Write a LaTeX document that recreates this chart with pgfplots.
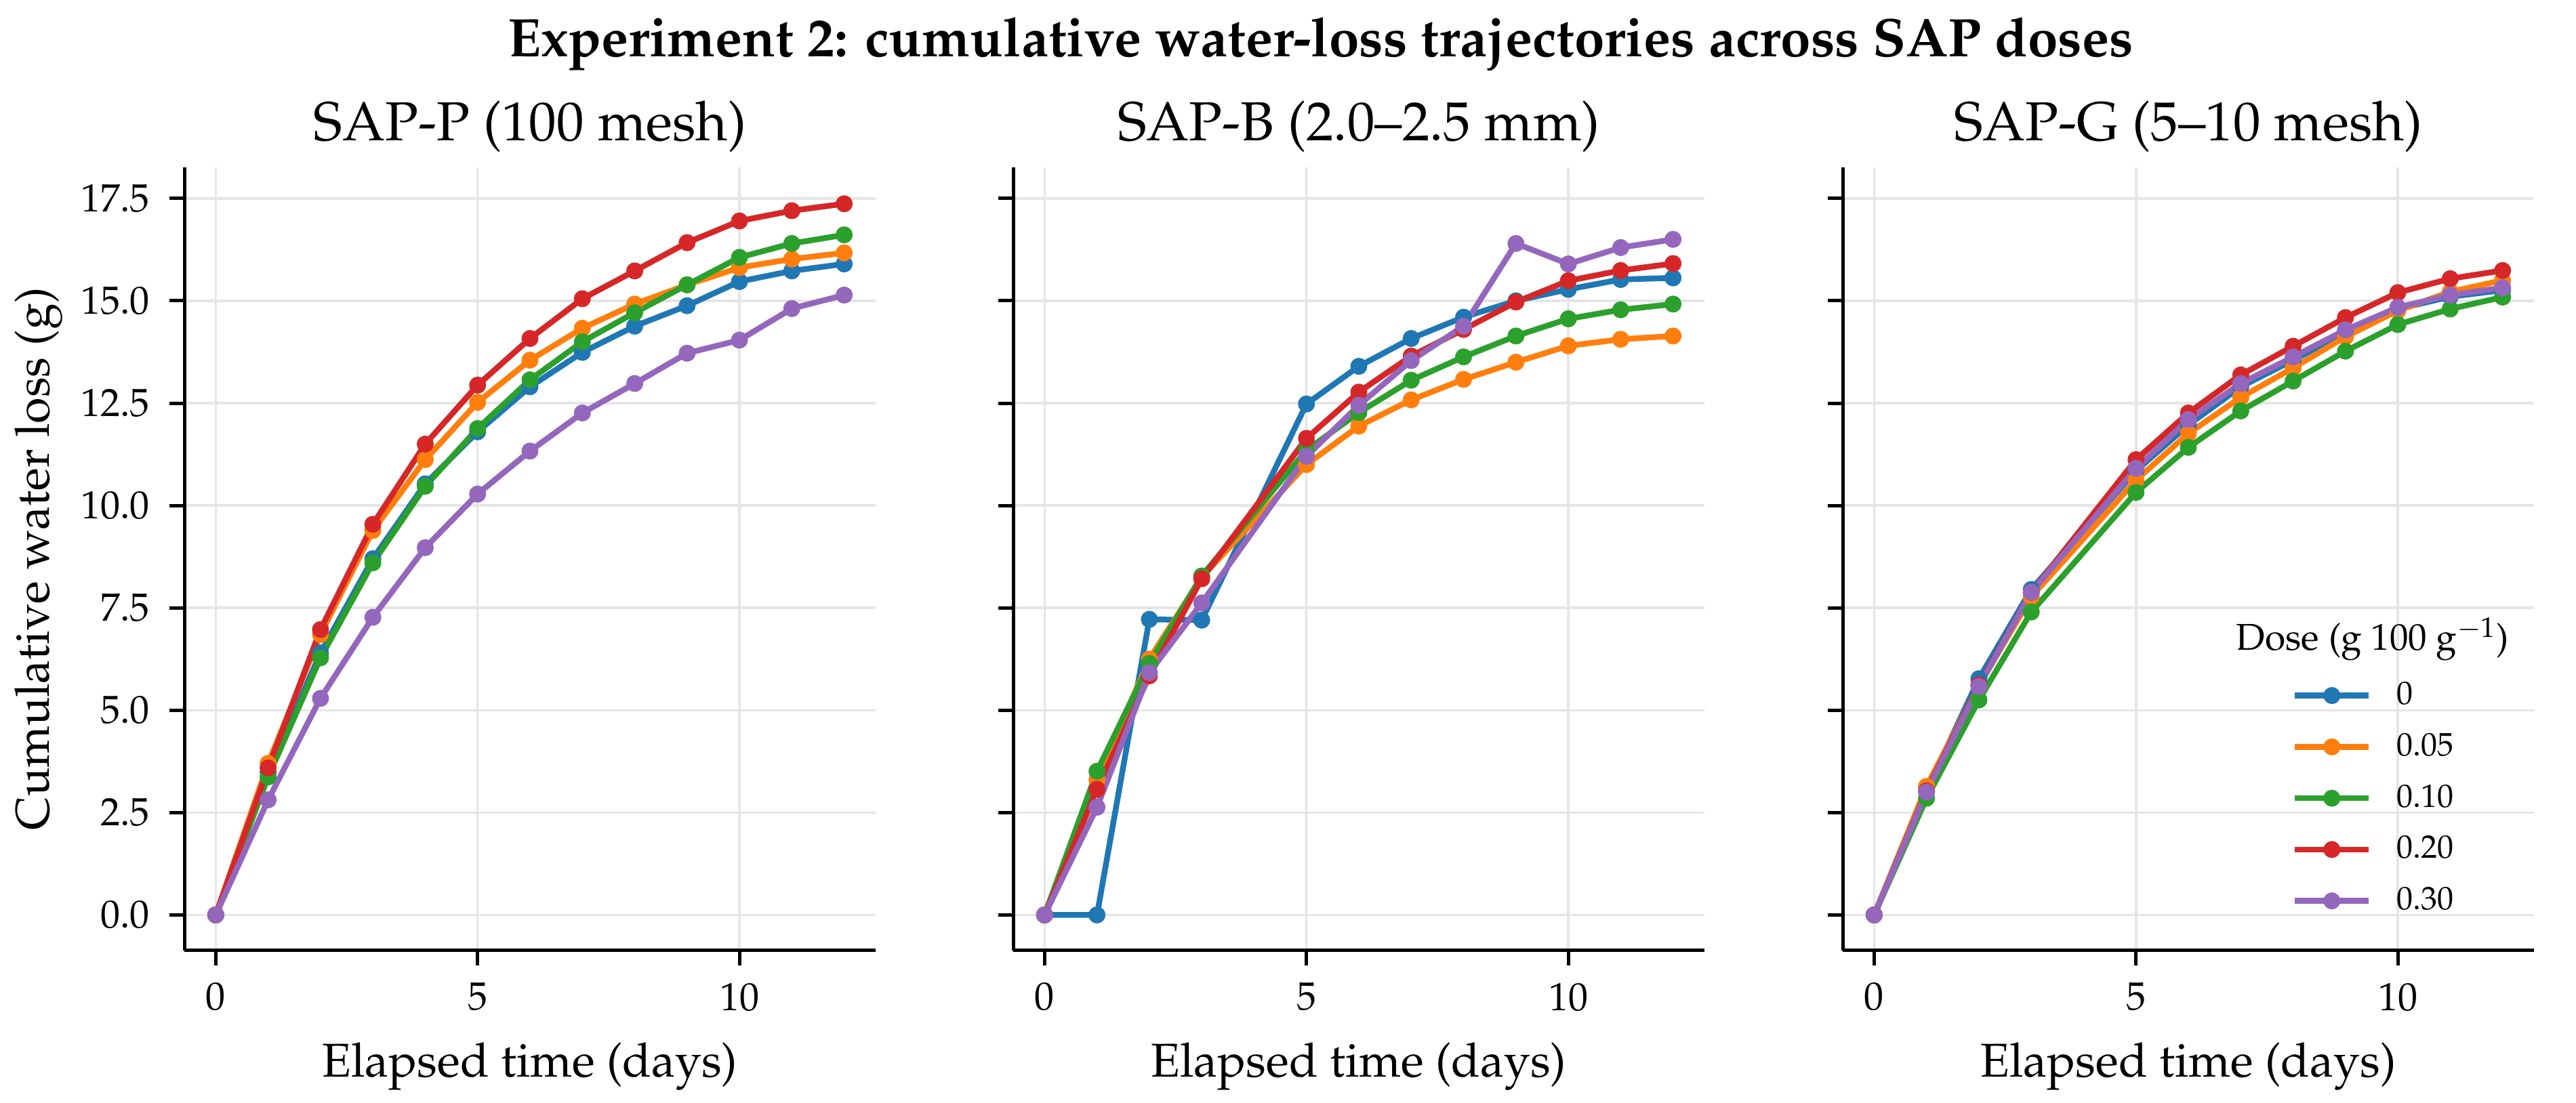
\documentclass[border=0pt]{standalone}
\usepackage[T1]{fontenc}
\usepackage{mathpazo}
\usepackage{pgfplots}
\pgfplotsset{compat=1.18}
\definecolor{cB}{HTML}{1F77B4}
\definecolor{cO}{HTML}{FF7F0E}
\definecolor{cG}{HTML}{2CA02C}
\definecolor{cR}{HTML}{D62728}
\definecolor{cP}{HTML}{9467BD}
\pgfplotsset{
  sapax/.style={
    scale only axis, width=204pt, height=231.2pt,
    xmin=-0.6, xmax=12.6, ymin=-0.87, ymax=18.26,
    axis x line*=bottom, axis y line*=left,
    axis line style={-, line width=1pt},
    xtick={0,5,10}, ytick={0,2.5,5,7.5,10,12.5,15,17.5},
    tick align=outside, major tick length=4.4pt,
    tick style={line width=1pt, black},
    grid=major, major grid style={line width=0.7pt, black!10},
    tick label style={font=\fontsize{11.6}{13}\selectfont},
    xticklabel style={inner sep=0pt, yshift=-5pt},
    yticklabel style={inner sep=0pt, xshift=-5.6pt, /pgf/number format/.cd, fixed, fixed zerofill, precision=1},
    xlabel={Elapsed time (days)},
    label style={font=\fontsize{14}{16}\selectfont},
    xlabel style={at={(axis description cs:0.5,0)}, anchor=base, yshift=-37.4pt},
    every axis plot/.append style={line width=1.7pt, line join=round, mark=*, mark size=2.1pt, mark options={solid, line width=0.8pt}},
    legend image code/.code={\draw[#1, mark repeat=2, mark phase=2] plot coordinates {(0pt,0pt) (10.9pt,0pt) (21.8pt,0pt)};},
  }
}
\begin{document}
\begin{tikzpicture}
\useasboundingbox (0,0) rectangle (760.2pt,325.6pt);
% Panel 1
\begin{axis}[sapax, at={(54.4pt,45pt)}, anchor=south west]
\addplot[cB] coordinates {(0,0) (1,3.48) (2,6.40) (3,8.70) (4,10.53) (5,11.80) (6,12.90) (7,13.74) (8,14.38) (9,14.88) (10,15.47) (11,15.73) (12,15.90)};
\addplot[cO] coordinates {(0,0) (1,3.70) (2,6.85) (3,9.39) (4,11.12) (5,12.52) (6,13.55) (7,14.33) (8,14.92) (9,15.39) (10,15.81) (11,16.02) (12,16.17)};
\addplot[cG] coordinates {(0,0) (1,3.37) (2,6.28) (3,8.60) (4,10.47) (5,11.88) (6,13.07) (7,14.00) (8,14.71) (9,15.39) (10,16.06) (11,16.40) (12,16.61)};
\addplot[cR] coordinates {(0,0) (1,3.59) (2,6.97) (3,9.54) (4,11.50) (5,12.94) (6,14.08) (7,15.05) (8,15.73) (9,16.42) (10,16.95) (11,17.20) (12,17.37)};
\addplot[cP] coordinates {(0,0) (1,2.81) (2,5.29) (3,7.27) (4,8.97) (5,10.28) (6,11.33) (7,12.26) (8,12.98) (9,13.72) (10,14.04) (11,14.81) (12,15.14)};
\end{axis}
% Panel 2
\begin{axis}[sapax, at={(299pt,45pt)}, anchor=south west, yticklabels={}]
\addplot[cB] coordinates {(0,0) (1,0) (2,7.22) (3,7.20) (5,12.48) (6,13.40) (7,14.08) (8,14.60) (9,15.00) (10,15.28) (11,15.52) (12,15.56)};
\addplot[cO] coordinates {(0,0) (1,3.30) (2,6.25) (3,8.25) (5,11.00) (6,11.94) (7,12.58) (8,13.08) (9,13.50) (10,13.90) (11,14.06) (12,14.14)};
\addplot[cG] coordinates {(0,0) (1,3.51) (2,6.14) (3,8.28) (5,11.35) (6,12.27) (7,13.06) (8,13.63) (9,14.14) (10,14.56) (11,14.78) (12,14.92)};
\addplot[cR] coordinates {(0,0) (1,3.07) (2,5.84) (3,8.21) (5,11.64) (6,12.77) (7,13.65) (8,14.30) (9,14.97) (10,15.49) (11,15.74) (12,15.91)};
\addplot[cP] coordinates {(0,0) (1,2.63) (2,5.92) (3,7.62) (5,11.20) (6,12.45) (7,13.54) (8,14.38) (9,16.40) (10,15.90) (11,16.30) (12,16.50)};
\end{axis}
% Panel 3
\begin{axis}[sapax, at={(543.8pt,45pt)}, anchor=south west, yticklabels={},
  legend style={draw=none, fill=none, at={(axis description cs:0.65,0.3432)}, anchor=north west,
    inner sep=0pt, outer sep=0pt, row sep=7.0pt, column sep=7.4pt,
    nodes={inner sep=0pt}, cells={anchor=west},
    font=\fontsize{9.6}{11}\selectfont}]
\addplot[cB] coordinates {(0,0) (1,3.03) (2,5.77) (3,7.95) (5,10.85) (6,11.97) (7,12.90) (8,13.55) (9,14.22) (10,14.80) (11,15.10) (12,15.26)};
\addlegendentry{0}
\addplot[cO] coordinates {(0,0) (1,3.14) (2,5.60) (3,7.77) (5,10.62) (6,11.76) (7,12.64) (8,13.36) (9,14.12) (10,14.76) (11,15.22) (12,15.50)};
\addlegendentry{0.05}
\addplot[cG] coordinates {(0,0) (1,2.85) (2,5.25) (3,7.40) (5,10.32) (6,11.42) (7,12.31) (8,13.04) (9,13.77) (10,14.42) (11,14.80) (12,15.09)};
\addlegendentry{0.10}
\addplot[cR] coordinates {(0,0) (1,3.03) (2,5.62) (3,7.88) (5,11.12) (6,12.26) (7,13.19) (8,13.89) (9,14.59) (10,15.20) (11,15.54) (12,15.74)};
\addlegendentry{0.20}
\addplot[cP] coordinates {(0,0) (1,3.00) (2,5.58) (3,7.88) (5,10.91) (6,12.10) (7,12.98) (8,13.63) (9,14.29) (10,14.84) (11,15.14) (12,15.32)};
\addlegendentry{0.30}
\end{axis}
\node[font=\fontsize{14}{16}\selectfont, rotate=90, anchor=base] at (14.4pt,160.6pt) {Cumulative water loss (g)};
\node[font=\fontsize{16.2}{18}\selectfont, anchor=base] at (156.4pt,284pt) {SAP-P (100 mesh)};
\node[font=\fontsize{16.2}{18}\selectfont, anchor=base] at (401pt,284pt) {SAP-B (2.0--2.5 mm)};
\node[font=\fontsize{16.2}{18}\selectfont, anchor=base] at (645.8pt,284pt) {SAP-G (5--10 mesh)};
\node[font=\fontsize{11}{13}\selectfont, anchor=base] at (700.2pt,133.6pt) {Dose (g 100 g$^{-1}$)};
\node[font=\fontsize{16}{19}\selectfont\bfseries, anchor=base] at (389.7pt,308.8pt) {Experiment 2: cumulative water-loss trajectories across SAP doses};
\end{tikzpicture}
\end{document}
